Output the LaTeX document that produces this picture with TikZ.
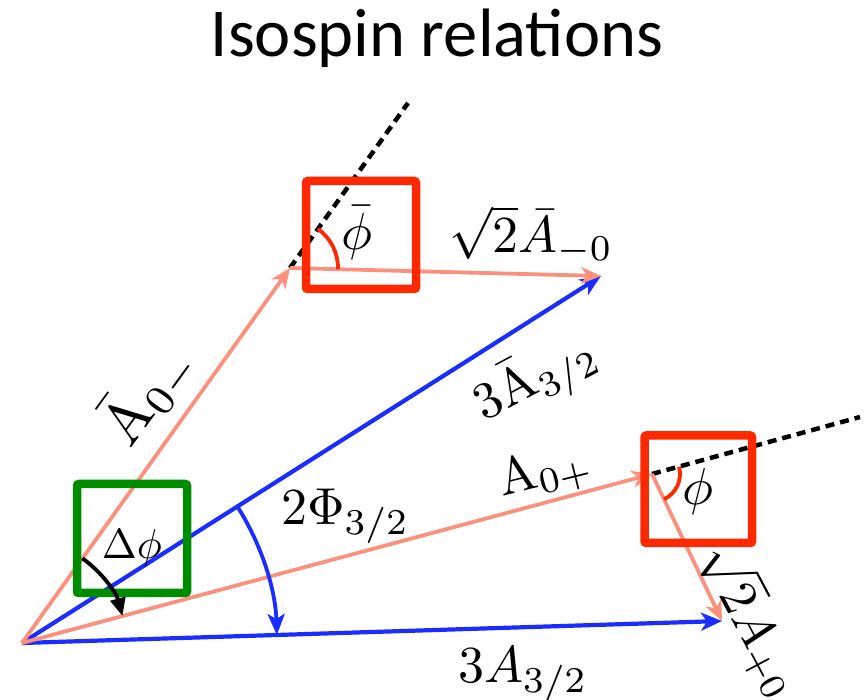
\documentclass[tikz,border=0pt]{standalone}
\usepackage{fontspec}
\newfontfamily\titlefont{Carlito}
\usetikzlibrary{arrows.meta,calc}
\definecolor{pinkA}{RGB}{250,145,125}
\definecolor{blueA}{RGB}{25,45,255}
\definecolor{redA}{RGB}{255,40,0}
\definecolor{greenA}{RGB}{0,140,0}
\tikzset{
  pinkvec/.style={draw=pinkA,line width=3.8pt,-{Stealth[length=20pt,width=17pt,inset=6pt]}},
  bluevec/.style={draw=blueA,line width=4.2pt,-{Stealth[length=21pt,width=18pt,inset=6pt]}},
  dashline/.style={draw=black,line width=4.5pt,dash pattern=on 9pt off 6pt},
  framebox/.style={line width=8.5pt,rounded corners=2pt},
  anglearc/.style={draw=redA,line width=3.8pt},
  lab/.style={inner sep=0pt,scale=5.2,transform shape},
  labs/.style={inner sep=0pt,scale=5.2,transform shape},
}
\begin{document}
\begin{tikzpicture}[x=1pt,y=1pt]
\useasboundingbox (0,0) rectangle (864,700);
\coordinate (O) at (22,57);
\coordinate (P1) at (290,432);
\coordinate (T1) at (601,424);
\coordinate (P2) at (652,226);
\coordinate (T2) at (722,79);
\coordinate (D1) at (408,597);
\coordinate (D2) at (860,283);

% title
\node[font=\titlefont\fontsize{68.5}{80}\selectfont,inner sep=0pt] (title) at (437,662) {Isospin relations};

% vectors
\draw[dashline] (P1) -- (D1);
\draw[dashline] (P2) -- (D2);
\draw[bluevec] (O) -- (T1);
\draw[bluevec] (O) -- (T2);
\draw[pinkvec] (O) -- (P1);
\draw[pinkvec] (P1) -- (T1);
\draw[pinkvec] (O) -- (P2);
\draw[pinkvec] (P2) -- (T2);

% frames
\draw[framebox,draw=redA] (306,411) rectangle (416,519);
\draw[framebox,draw=redA] (644.5,157) rectangle (752,264.5);
\draw[framebox,draw=greenA] (77,107) rectangle (187,216);

% angle arcs
\draw[anglearc] ($(P1)+(-1.5:48)$) arc[start angle=-1.5,end angle=54.45,radius=48];
\draw[anglearc] ($(P2)+(15:28)$) arc[start angle=15,end angle=-64.5,radius=28];
\draw[draw=blueA,line width=3.8pt,-{Stealth[length=21pt,width=17pt,inset=5pt]}]
  ($(O)+(32.4:255)$) arc[start angle=32.4,end angle=1.8,radius=255];
\draw[draw=black,line width=3.8pt,-{Triangle[length=18pt,width=15pt]}]
  ($(O)+(54.45:104)$) arc[start angle=54.45,end angle=15,radius=104];

% labels
\node[lab] (phibar) at (357,467) {$\bar{\phi}$};
\node[lab,anchor=base west] (lAm0) at (448,447) {$\sqrt{2}\bar{A}_{-0}$};
\node[lab] (phi) at (698,208) {$\phi$};
\node[lab,rotate=-62] (lAp0) at (752,80) {$\sqrt{2}A_{+0}$};
\node[inner sep=0pt,scale=6,transform shape,rotate=54] (lA0m) at (148,306) {$\bar{\mathrm{A}}_{0-}$};
\node[labs,rotate=28] (lA32b) at (536,320) {$3\bar{\mathrm{A}}_{3/2}$};
\node[labs,rotate=14] (lA0p) at (545,227) {$\mathrm{A}_{0+}$};
\node[lab,anchor=base west] (lPhi) at (280,175) {$2\Phi_{3/2}$};
\node[lab,anchor=base west] (lA32) at (457,17) {$3A_{3/2}$};
\node[inner sep=0pt,scale=4.2,transform shape] (ldphi) at (132,152) {$\Delta\phi$};
\end{tikzpicture}
\end{document}
